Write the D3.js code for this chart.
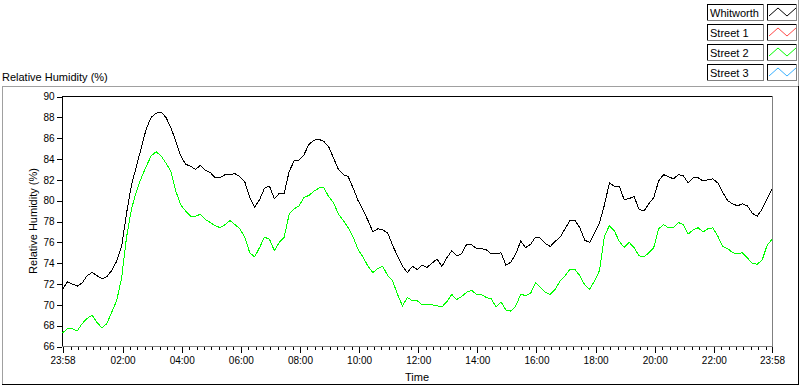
<!DOCTYPE html>
<html>
<head>
<meta charset="utf-8">
<script src="https://cdn.jsdelivr.net/npm/d3@7/dist/d3.min.js"></script>
<style>
  html, body { margin: 0; padding: 0; background: #fff; }
  svg { display: block; font-family: "Liberation Sans", Arial, sans-serif; font-size: 11px; }
  .crisp { shape-rendering: crispEdges; }
</style>
</head>
<body>
<svg id="chart" width="800" height="386"></svg>
<script>
// readings every 10 minutes, starting at 23:58 the day before
const stepMinutes = 10;
const whitworth = [
  71.5, 72.2, 72.0, 71.8, 72.1, 72.8, 73.1, 72.8, 72.5, 72.7,
  73.3, 74.2, 75.6, 78.8, 81.5, 83.3, 85.1, 86.9, 88.0, 88.4,
  88.5, 88.0, 87.0, 85.7, 84.3, 83.5, 83.3, 83.0, 83.4, 82.9,
  82.7, 82.2, 82.2, 82.5, 82.5, 82.6, 82.3, 81.8, 80.3, 79.4,
  80.1, 81.2, 81.4, 80.2, 80.7, 80.7, 82.8, 83.8, 83.9, 84.4,
  85.4, 85.8, 85.9, 85.7, 85.2, 84.1, 83.0, 82.5, 82.3, 81.2,
  80.0, 79.1, 78.1, 77.0, 77.3, 77.2, 76.9, 75.7, 74.7, 73.7,
  73.1, 73.7, 73.4, 73.8, 73.6, 74.0, 74.4, 73.7, 74.5, 75.2,
  74.7, 74.9, 75.8, 75.8, 75.4, 75.4, 75.3, 74.9, 74.9, 75.0,
  73.8, 74.1, 74.9, 76.1, 75.5, 75.8, 76.5, 76.4, 75.9, 75.6,
  76.1, 76.5, 77.3, 78.1, 78.1, 77.4, 76.2, 76.0, 76.9, 77.9,
  79.6, 81.7, 81.4, 81.4, 80.1, 80.2, 80.4, 79.2, 79.0, 79.7,
  80.3, 81.9, 82.5, 82.3, 82.1, 82.5, 82.4, 81.7, 82.2, 82.2,
  81.9, 82.0, 82.1, 81.7, 80.8, 80.0, 79.7, 79.5, 79.7, 79.5,
  78.8, 78.5, 79.2, 80.2, 81.1
];
const street2 = [
  67.3, 67.7, 67.7, 67.5, 68.2, 68.7, 69.0, 68.3, 67.8, 68.2,
  69.3, 70.4, 72.6, 76.5, 79.2, 80.9, 82.2, 83.3, 84.3, 84.7,
  84.3, 83.6, 82.8, 80.9, 79.6, 79.0, 78.5, 78.5, 78.7, 78.2,
  77.9, 77.6, 77.4, 77.7, 78.1, 77.7, 77.3, 76.5, 75.0, 74.6,
  75.5, 76.5, 76.3, 75.2, 76.0, 76.5, 78.7, 79.2, 79.5, 80.3,
  80.5, 80.9, 81.2, 81.3, 80.4, 79.8, 78.7, 78.1, 77.4, 76.5,
  75.3, 74.6, 73.7, 73.1, 73.5, 73.7, 72.8, 72.3, 71.0, 69.9,
  70.7, 70.4, 70.4, 70.0, 70.0, 70.0, 69.9, 69.8, 70.3, 71.0,
  70.5, 70.8, 71.2, 71.4, 71.0, 71.0, 70.7, 70.6, 69.8, 70.3,
  69.5, 69.4, 69.9, 71.0, 70.9, 71.1, 72.1, 71.7, 71.2, 71.0,
  71.5, 72.3, 72.8, 73.4, 73.4, 72.8, 71.9, 71.5, 72.3, 73.3,
  76.6, 77.6, 77.1, 76.1, 75.5, 76.0, 75.5, 74.7, 74.6, 75.0,
  75.5, 77.3, 77.7, 77.4, 77.4, 77.9, 77.7, 76.8, 77.2, 77.4,
  77.0, 77.3, 77.4, 76.6, 75.6, 75.4, 75.0, 74.9, 75.0, 74.5,
  74.0, 73.9, 74.3, 75.7, 76.3
];
const legendNames = ["Whitworth", "Street 1", "Street 2", "Street 3"];
const legendColors = ["#000000", "#ff4848", "#00ff00", "#38b0ff"];
const yTicks = [66, 68, 70, 72, 74, 76, 78, 80, 82, 84, 86, 88, 90];

const W = 800, H = 386;
const plot = { left: 62, top: 96, right: 772, bottom: 346 };
const svg = d3.select('#chart');

const tStart = new Date(2000, 0, 0, 23, 58);
const tEnd = new Date(2000, 0, 1, 23, 58);
const timeAt = i => d3.timeMinute.offset(tStart, i * stepMinutes);

const x = d3.scaleTime().domain([tStart, tEnd]).range([plot.left + 0.5, plot.right]);
const y = d3.scaleLinear().domain([66, 90]).range([plot.bottom + 0.5, plot.top + 0.5]);

function hline(g, x1, x2, yy, c) {
  g.append('line').attr('class', 'crisp').attr('x1', x1).attr('x2', x2)
    .attr('y1', yy + 0.5).attr('y2', yy + 0.5).attr('stroke', c);
}
function vline(g, xx, y1, y2, c) {
  g.append('line').attr('class', 'crisp').attr('x1', xx + 0.5).attr('x2', xx + 0.5)
    .attr('y1', y1).attr('y2', y2).attr('stroke', c);
}
// sunken/raised box: top+left in one colour, bottom+right in another
function bevel(g, bx, by, bw, bh, tl, br) {
  hline(g, bx, bx + bw, by, tl);
  vline(g, bx, by, by + bh, tl);
  hline(g, bx, bx + bw + 1, by + bh, br);
  vline(g, bx + bw, by, by + bh, br);
}

// outer frame of the graph panel
const frame = svg.append('g');
hline(frame, 2, 798, 86, '#a0a0a0');
vline(frame, 2, 86, 384, '#a0a0a0');
hline(frame, 2, 799, 384, '#000');
vline(frame, 798, 86, 384, '#000');
vline(frame, 798, 0, 86, '#a0a0a0');

// title
svg.append('text').attr('x', 2).attr('y', 81).text('Relative Humidity (%)');

// plot area border
const border = svg.append('g');
hline(border, plot.left, plot.right, plot.top, '#000');
vline(border, plot.left, plot.top, plot.bottom, '#000');
hline(border, plot.left, plot.right + 1, plot.bottom, '#808080');
vline(border, plot.right, plot.top, plot.bottom, '#808080');

// y axis
const yAxis = svg.append('g').attr('transform', `translate(${plot.left - 0.5},0)`)
  .call(d3.axisLeft(y).tickValues(yTicks).tickSize(5).tickPadding(2));
yAxis.select('.domain').remove();
yAxis.selectAll('line').attr('class', 'crisp');
yAxis.selectAll('text').attr('font-family', null).attr('font-size', null).attr('fill', '#000');

svg.append('text')
  .attr('transform', `translate(37,${(plot.top + plot.bottom) / 2}) rotate(-90)`)
  .attr('text-anchor', 'middle').text('Relative Humidity (%)');

// x axis: minor ticks every 15 min, labels every 2 h plus both ends
const minorTicks = d3.timeMinute.every(15).range(tStart, tEnd);
const majorTicks = [tStart].concat(d3.timeHour.every(2).range(new Date(2000, 0, 1, 1), tEnd), [tEnd]);
const fmt = d3.timeFormat('%H:%M');

const xMinor = svg.append('g').attr('transform', `translate(0,${plot.bottom + 1})`)
  .call(d3.axisBottom(x).tickValues(minorTicks).tickFormat('').tickSize(3));
xMinor.select('.domain').remove();
xMinor.selectAll('line').attr('class', 'crisp');

const xMajor = svg.append('g').attr('transform', `translate(0,${plot.bottom + 1})`)
  .call(d3.axisBottom(x).tickValues(majorTicks).tickFormat(fmt).tickSize(6).tickPadding(4));
xMajor.select('.domain').remove();
xMajor.selectAll('line').attr('class', 'crisp');
xMajor.selectAll('text').attr('font-family', null).attr('font-size', null).attr('fill', '#000');

svg.append('text').attr('x', (plot.left + plot.right) / 2).attr('y', 381)
  .attr('text-anchor', 'middle').text('Time');

// data lines
const line = d3.line().x((d, i) => x(timeAt(i))).y(d => y(d));
const lines = svg.append('g');
lines.append('path').datum(street2).attr('class', 'crisp')
  .attr('fill', 'none').attr('stroke', legendColors[2]).attr('d', line);
lines.append('path').datum(whitworth).attr('class', 'crisp')
  .attr('fill', 'none').attr('stroke', legendColors[0]).attr('d', line);

// legend
const legend = svg.append('g');
legendNames.forEach((name, i) => {
  const ry = 4 + i * 20;
  legend.append('rect').attr('x', 707).attr('y', ry).attr('width', 56).attr('height', 16).attr('fill', '#fff');
  bevel(legend, 707, ry, 56, 16, '#000', '#808080');
  legend.append('text').attr('x', 710).attr('y', ry + 13).text(name);
  bevel(legend, 767, ry, 29, 16, '#000', '#808080');
  legend.append('polyline')
    .attr('points', [[769, ry + 12], [778, ry + 4], [787, ry + 12], [796, ry + 4]].join(' '))
    .attr('fill', 'none').attr('stroke', legendColors[i]);
});
</script>
</body>
</html>
